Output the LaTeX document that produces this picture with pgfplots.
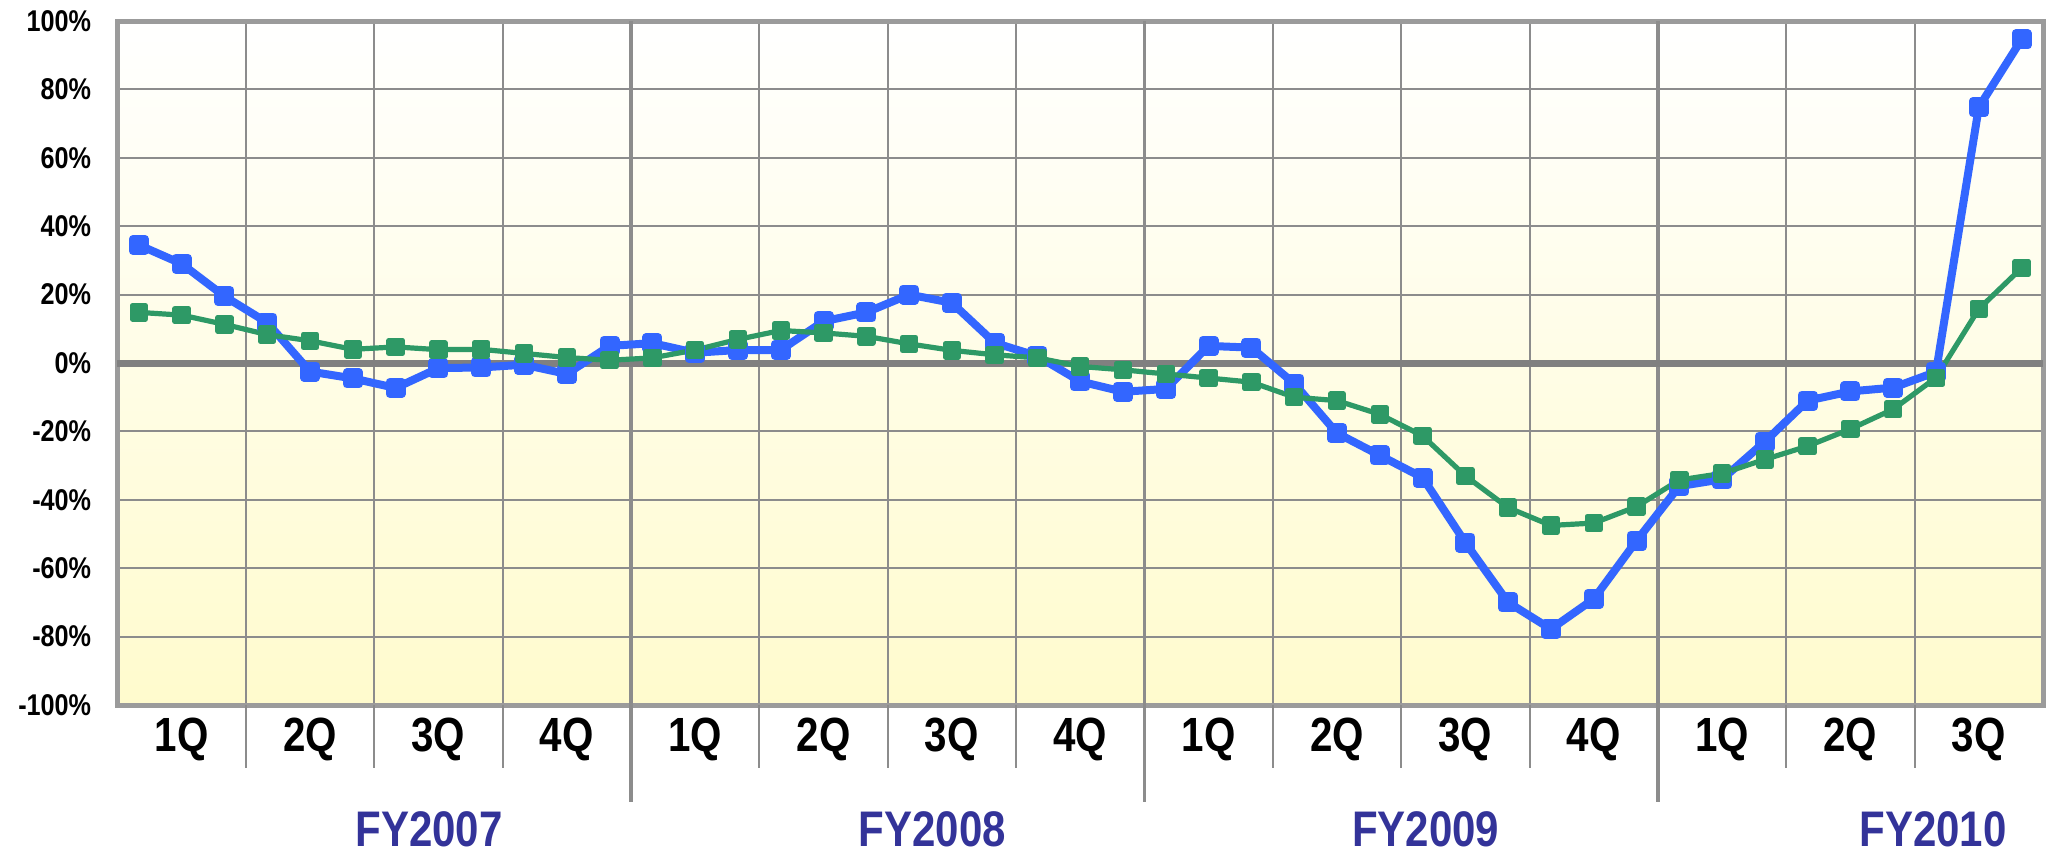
\documentclass[border=0pt]{standalone}
\usepackage{fontspec}
\setmainfont{Liberation Sans}[FakeStretch=0.84]
\usepackage{pgfplots}
\usepackage{pgfplotstable}
\pgfplotsset{compat=1.18}

\definecolor{bl}{RGB}{51,102,255}
\definecolor{gr}{RGB}{46,153,102}
\definecolor{gridc}{RGB}{140,140,140}
\definecolor{zeroc}{RGB}{128,128,128}
\definecolor{borderc}{RGB}{155,155,155}
\definecolor{fyc}{RGB}{51,51,153}
\definecolor{bgbot}{RGB}{255,251,205}

\pgfplotstableread{
x blue green
0.5 34.5 14.8
1.5 29.0 14.0
2.5 19.5 11.3
3.5 11.8 8.3
4.5 -2.5 6.5
5.5 -4.5 4.0
6.5 -7.3 4.7
7.5 -1.5 3.9
8.5 -1.3 4.0
9.5 -0.5 2.8
10.5 -3.2 1.6
11.5 5.0 0.8
12.5 5.8 1.5
13.5 3.0 3.8
14.5 3.8 6.9
15.5 3.8 9.5
16.5 12.2 8.8
17.5 14.8 7.8
18.5 20.0 5.6
19.5 17.6 3.7
20.5 5.9 2.4
21.5 2.0 1.5
22.5 -5.4 -1.0
23.5 -8.4 -2.0
24.5 -7.6 -3.2
25.5 5.0 -4.4
26.5 4.5 -5.6
27.5 -6.0 -10.0
28.5 -20.5 -11.0
29.5 -27.0 -15.0
30.5 -33.5 -21.3
31.5 -52.5 -33.0
32.5 -70.0 -42.3
33.5 -77.8 -47.5
34.5 -69.0 -46.8
35.5 -52.0 -42.0
36.5 -36.0 -34.2
37.5 -34.0 -32.3
38.5 -23.0 -28.2
39.5 -11.0 -24.3
40.5 -8.3 -19.3
41.5 -7.2 -13.5
42.5 -2.6 -4.3
43.5 74.8 15.8
44.5 94.6 27.8
}\datatable

\begin{document}
\begin{tikzpicture}
\begin{axis}[
  at={(0,0)}, anchor=south west,
  scale only axis, width=962.75pt, height=342pt,
  xmin=0, xmax=45, ymin=-100, ymax=100,
  clip=false,
  axis background/.style={shade, top color=white, bottom color=bgbot},
  axis line style={draw=borderc, line width=2.5pt},
  xtick={1.5,4.5,...,43.5},
  xticklabels={1Q,2Q,3Q,4Q,1Q,2Q,3Q,4Q,1Q,2Q,3Q,4Q,1Q,2Q,3Q},
  minor xtick={3,6,9,15,18,21,27,30,33,39,42},
  xminorgrids=true,
  minor x grid style={draw=gridc, line width=1pt},
  ytick={-100,-80,...,100},
  yticklabels={-100\%,-80\%,-60\%,-40\%,-20\%,0\%,20\%,40\%,60\%,80\%,100\%},
  ymajorgrids=true,
  major y grid style={draw=gridc, line width=1pt},
  major tick length=0pt, minor tick length=0pt,
  tick style={draw=none},
  xticklabel style={font=\bfseries\fontsize{24}{24}\selectfont, anchor=center, inner sep=0pt, yshift=-17.25pt},
  yticklabel style={font=\bfseries\fontsize{15}{15}\selectfont, anchor=east, inner sep=0pt, xshift=-13pt},
]
\pgfplotsinvokeforeach{12,24,36}{
  \draw[draw=gridc, line width=1.6pt] (axis cs:#1,100) -- (axis cs:#1,-100) -- ++(0pt,-48.5pt);
}
\pgfplotsinvokeforeach{3,6,9,15,18,21,27,30,33,39,42}{
  \draw[draw=gridc, line width=1pt] (axis cs:#1,-100) -- ++(0pt,-31.5pt);
}
\draw[draw=zeroc, line width=3.5pt] (axis cs:0,0) -- (axis cs:45,0);
\addplot[bl, line width=4pt, line join=round, mark=square*, mark size=3pt, mark options={solid}] table[x=x,y=blue]{\datatable};
\addplot[gr, line width=2.6pt, line join=round, mark=square*, mark size=3.3pt, mark options={solid}] table[x=x,y=green]{\datatable};
\node[fyc, font=\bfseries\fontsize{25}{25}\selectfont, anchor=base, inner sep=0pt, yshift=-70.5pt] at (axis cs:7.28,-100) {FY2007};
\node[fyc, font=\bfseries\fontsize{25}{25}\selectfont, anchor=base, inner sep=0pt, yshift=-70.5pt] at (axis cs:19.04,-100) {FY2008};
\node[fyc, font=\bfseries\fontsize{25}{25}\selectfont, anchor=base, inner sep=0pt, yshift=-70.5pt] at (axis cs:30.57,-100) {FY2009};
\node[fyc, font=\bfseries\fontsize{25}{25}\selectfont, anchor=base, inner sep=0pt, yshift=-70.5pt] at (axis cs:42.43,-100) {FY2010};
\end{axis}
\pgfresetboundingbox
\path[use as bounding box] (-58.75pt,-73.8pt) rectangle (964.75pt,352.5pt);
\end{tikzpicture}
\end{document}
